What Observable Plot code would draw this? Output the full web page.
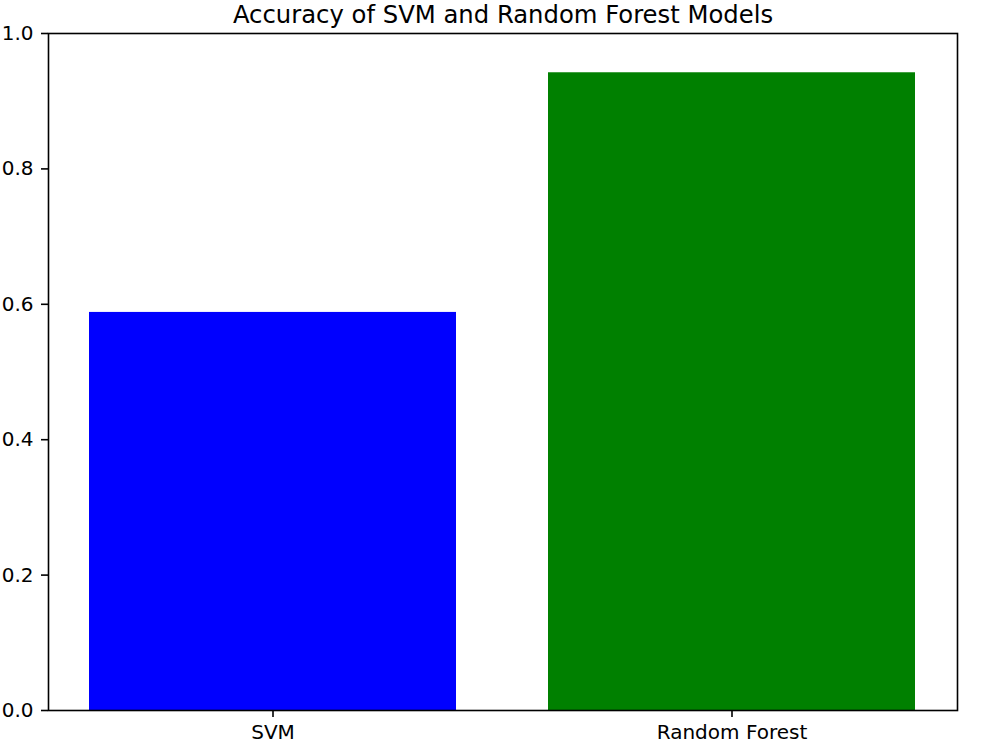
<!DOCTYPE html>
<html>
<head>
<meta charset="utf-8">
<script src="https://cdn.jsdelivr.net/npm/d3@7"></script>
<script src="https://cdn.jsdelivr.net/npm/@observablehq/plot@0.6"></script>
<style>
  html, body { margin: 0; padding: 0; background: #fff; }
  svg { display: block; }
</style>
</head>
<body>
<div id="chart"></div>
<script>
const models = ["SVM", "Random Forest"];
const accuracy = [0.588, 0.942];
const colors = ["blue", "green"];
const yTicks = [0, 0.2, 0.4, 0.6, 0.8, 1.0];
const title = "Accuracy of SVM and Random Forest Models";

const data = models.map((m, i) => ({model: m, accuracy: accuracy[i], color: colors[i]}));

const chart = Plot.plot({
  width: 1000,
  height: 750,
  marginLeft: 48,
  marginRight: 43,
  marginTop: 33,
  marginBottom: 40,
  style: {fontFamily: "DejaVu Sans", fontSize: "20px", color: "#000", background: "#fff"},
  x: {domain: models, paddingInner: 0.2, paddingOuter: 0.09, label: null, tickSize: 7, tickPadding: 7},
  y: {domain: [0, 1], ticks: yTicks, tickFormat: d3.format(".1f"), label: null, tickSize: 7, tickPadding: 8},
  marks: [
    Plot.barY(data, {x: "model", y: "accuracy", fill: "color"}),
    Plot.frame({stroke: "#000", strokeWidth: 1.6}),
    Plot.axisX({tickSize: 7, tickPadding: 7, strokeWidth: 1.6, fontSize: 20}),
    Plot.axisY({ticks: yTicks, tickFormat: d3.format(".1f"), tickSize: 7, tickPadding: 8, strokeWidth: 1.6, fontSize: 20}),
    Plot.text([title], {frameAnchor: "top", dy: -28, text: d => d, fontSize: 24.3, fill: "#000"})
  ]
});
document.getElementById("chart").appendChild(chart);
</script>
</body>
</html>
